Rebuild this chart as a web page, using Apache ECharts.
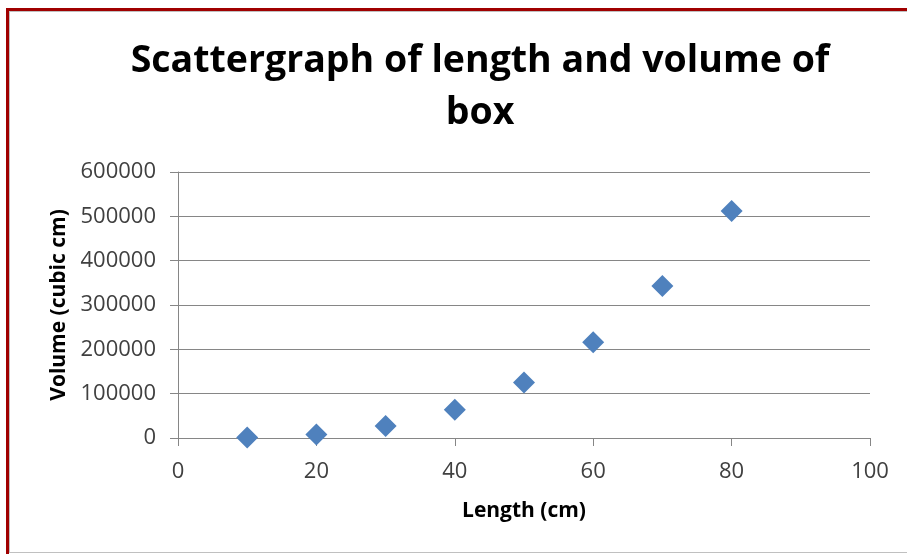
<!DOCTYPE html>
<html><head><meta charset="utf-8">
<script src="https://cdn.jsdelivr.net/npm/echarts@6/dist/echarts.min.js"></script>
<style>
html,body{margin:0;padding:0;width:907px;height:554px;overflow:hidden;background:#fff;}
#frame{position:absolute;left:6px;top:8px;width:920px;height:546px;border-top:3px solid #a00000;border-left:3px solid #a00000;box-sizing:border-box;}
#inner{position:absolute;left:0;top:0;right:0;bottom:1px;border-top:1px solid #c0c0c0;border-left:1px solid #c0c0c0;border-bottom:1px solid #c0c0c0;}
#chart{position:absolute;left:0;top:0;width:907px;height:554px;}
</style></head>
<body>
<div id="frame"><div id="inner"></div></div>
<div id="chart"></div>
<script>
const titleText = "Scattergraph of length and volume of\nbox";
const xName = "Length (cm)";
const yName = "Volume (cubic cm)";
const lengths = [10, 20, 30, 40, 50, 60, 70, 80];
const volumes = [1000, 8000, 27000, 64000, 125000, 216000, 343000, 512000];

const chart = echarts.init(document.getElementById('chart'), null, {renderer:'canvas'});
const axisColor = '#868686';
const labelColor = '#404040';
chart.setOption({
  backgroundColor: 'transparent',
  animation: false,
  title: {
    text: titleText,
    left: 475, top: 30, textAlign: 'center',
    textStyle: {fontFamily: 'Open Sans', fontWeight: 'bold', fontSize: 37.5, lineHeight: 52, color: '#000'}
  },
  grid: {left: 178, right: 37, top: 172, bottom: 116},
  xAxis: {
    type: 'value', min: 0, max: 100, interval: 20,
    name: xName, nameLocation: 'middle', nameGap: 63,
    nameTextStyle: {fontFamily: 'Open Sans', fontWeight: 'bold', fontSize: 21, color: '#000'},
    axisLine: {show: true, lineStyle: {color: axisColor}},
    axisTick: {show: true, inside: false, length: 8, lineStyle: {color: axisColor}},
    axisLabel: {fontFamily: 'Open Sans', fontSize: 22, color: labelColor, margin: 23},
    splitLine: {show: false}
  },
  yAxis: {
    type: 'value', min: 0, max: 600000, interval: 100000,
    name: yName, nameLocation: 'middle', nameGap: 108,
    nameTextStyle: {fontFamily: 'Open Sans', fontWeight: 'bold', fontSize: 21, color: '#000'},
    axisLine: {show: true, lineStyle: {color: axisColor}},
    axisTick: {show: true, inside: false, length: 8, lineStyle: {color: axisColor}},
    axisLabel: {fontFamily: 'Open Sans', fontSize: 22, color: labelColor, margin: 22, formatter: v => String(v)},
    splitLine: {show: true, lineStyle: {color: axisColor, width: 1}}
  },
  series: [{
    type: 'scatter',
    symbol: 'diamond',
    symbolSize: 22,
    itemStyle: {color: '#4f81bd', opacity: 1},
    data: lengths.map((x, i) => [x, volumes[i]])
  }]
});
</script>
</body></html>
